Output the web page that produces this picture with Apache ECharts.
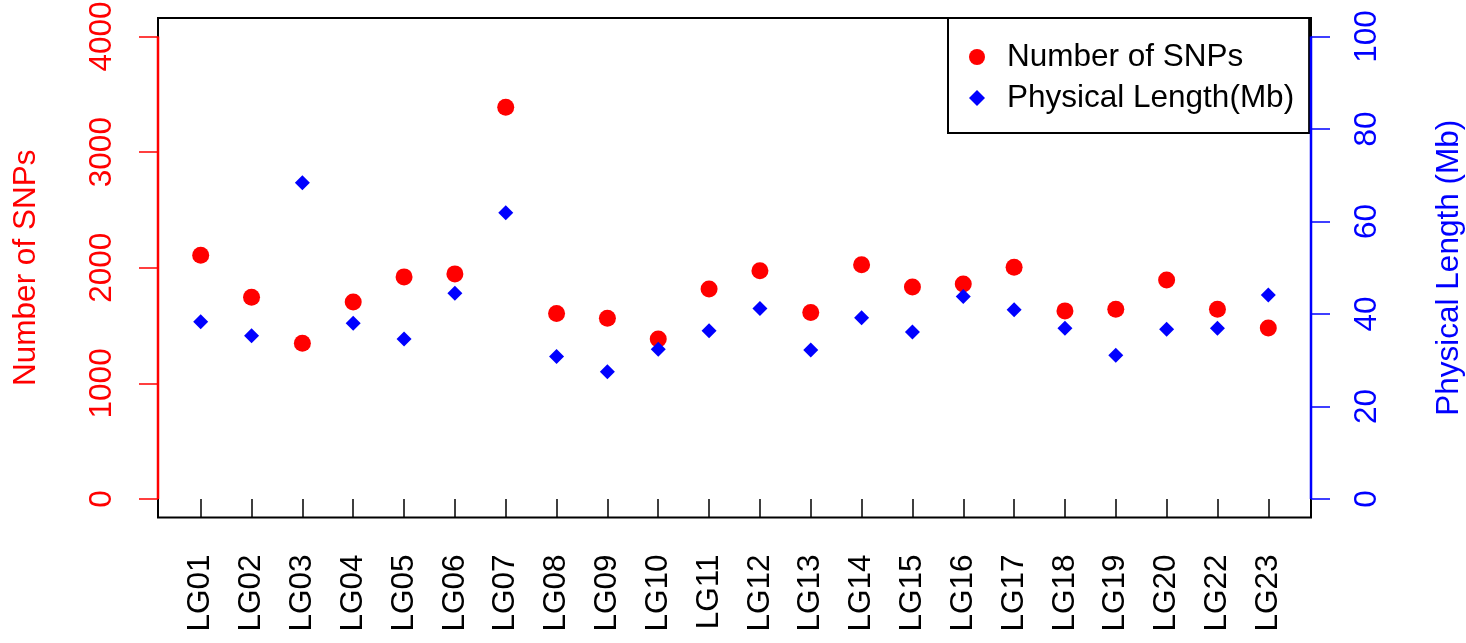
<!DOCTYPE html>
<html>
<head>
<meta charset="utf-8">
<script src="https://cdn.jsdelivr.net/npm/echarts@6/dist/echarts.min.js"></script>
<style>
  html, body { margin: 0; padding: 0; background: #fff; }
  #chart { width: 1466px; height: 643px; }
</style>
</head>
<body>
<div id="chart"></div>
<script>
// linkage groups
const categories = ["LG01", "LG02", "LG03", "LG04", "LG05", "LG06", "LG07", "LG08", "LG09", "LG10", "LG11",
  "LG12", "LG13", "LG14", "LG15", "LG16", "LG17", "LG18", "LG19", "LG20", "LG22", "LG23"];
const snpCounts = [2108, 1745, 1347, 1704, 1921, 1947, 3389, 1605, 1563, 1384, 1817,
  1975, 1612, 2025, 1834, 1860, 2005, 1627, 1641, 1895, 1641, 1479];
const physLength = [38.3, 35.3, 68.4, 38.0, 34.6, 44.5, 61.9, 30.8, 27.5, 32.4, 36.4,
  41.2, 32.2, 39.2, 36.1, 43.8, 40.9, 36.9, 31.1, 36.7, 36.9, 44.1];
const snpTicks = [0, 1000, 2000, 3000, 4000];
const lengthTicks = [0, 20, 40, 60, 80, 100];

const font = "Liberation Sans";
const fs = 31.5;
const positions = categories.map((c, i) => i + 1);

// R style 4% padding around the data range
const pad = (lo, hi) => [lo - (hi - lo) * 0.04, hi + (hi - lo) * 0.04];
const xr = pad(1, categories.length);
const yl = pad(snpTicks[0], snpTicks[snpTicks.length - 1]);
const yr = pad(lengthTicks[0], lengthTicks[lengthTicks.length - 1]);

let myChart = echarts.init(document.getElementById("chart"));
let option = {
  animation: false,
  backgroundColor: "#fff",
  textStyle: { fontFamily: font },
  grid: {
    left: 158, right: 155, top: 18, bottom: 125.5,
    outerBoundsMode: "none",
    containLabel: false,
    show: true, borderColor: "#000", borderWidth: 2, backgroundColor: "transparent"
  },
  legend: {
    left: 948, top: 18,
    orient: "vertical",
    padding: [21, 15, 17, 21],
    itemGap: 5,
    itemWidth: 16, itemHeight: 16,
    borderColor: "#000", borderWidth: 2,
    textStyle: { fontFamily: font, fontSize: fs, color: "#000", lineHeight: 36, padding: [0, 0, 0, 17] },
    data: [
      { name: "Number of SNPs", icon: "circle" },
      { name: "Physical Length(Mb)", icon: "diamond" }
    ]
  },
  xAxis: {
    type: "value",
    min: xr[0], max: xr[1],
    axisLine: { show: false },
    splitLine: { show: false },
    axisTick: { show: true, length: 18, lineStyle: { color: "#000", width: 1.5 }, customValues: positions },
    axisLabel: {
      rotate: 90, margin: 37, fontFamily: font, fontSize: fs, color: "#000",
      customValues: positions,
      formatter: v => categories[Math.round(v) - 1] || ""
    }
  },
  yAxis: [
    {
      type: "value",
      position: "left",
      min: yl[0], max: yl[1],
      name: "Number of SNPs",
      nameLocation: "middle", nameRotate: 90, nameGap: 116,
      nameTextStyle: { fontFamily: font, fontSize: fs, color: "#ff0000" },
      axisLine: { show: false },
      splitLine: { show: false },
      axisTick: { show: true, length: 19, lineStyle: { color: "#ff0000", width: 1.5 }, customValues: snpTicks },
      axisLabel: {
        rotate: 90, margin: 40, fontFamily: font, fontSize: fs, color: "#ff0000",
        customValues: snpTicks, formatter: v => String(v)
      }
    },
    {
      type: "value",
      position: "right",
      min: yr[0], max: yr[1],
      name: "Physical Length (Mb)",
      nameLocation: "middle", nameRotate: 90, nameGap: 122,
      nameTextStyle: { fontFamily: font, fontSize: fs, color: "#0000ff" },
      axisLine: { show: false },
      splitLine: { show: false },
      axisTick: { show: true, length: 19, lineStyle: { color: "#0000ff", width: 1.5 }, customValues: lengthTicks },
      axisLabel: {
        rotate: 90, margin: 40, fontFamily: font, fontSize: fs, color: "#0000ff",
        customValues: lengthTicks, formatter: v => String(v)
      }
    }
  ],
  series: [
    {
      name: "Number of SNPs",
      type: "scatter",
      yAxisIndex: 0,
      symbol: "circle",
      symbolSize: 17,
      itemStyle: { color: "#ff0000", opacity: 1 },
      data: snpCounts.map((v, i) => [positions[i], v])
    },
    {
      name: "Physical Length(Mb)",
      type: "scatter",
      yAxisIndex: 1,
      symbol: "diamond",
      symbolSize: 15,
      itemStyle: { color: "#0000ff", opacity: 1 },
      data: physLength.map((v, i) => [positions[i], v])
    }
  ]
};
myChart.setOption(option);

// coloured axis lines only span the tick range, like R's axis()
const xLeft = myChart.convertToPixel({ xAxisIndex: 0 }, xr[0]);
const xRight = myChart.convertToPixel({ xAxisIndex: 0 }, xr[1]);
const l0 = myChart.convertToPixel({ yAxisIndex: 0 }, snpTicks[0]);
const l1 = myChart.convertToPixel({ yAxisIndex: 0 }, snpTicks[snpTicks.length - 1]);
const r0 = myChart.convertToPixel({ yAxisIndex: 1 }, lengthTicks[0]);
const r1 = myChart.convertToPixel({ yAxisIndex: 1 }, lengthTicks[lengthTicks.length - 1]);
myChart.setOption({
  graphic: [
    { type: "line", z: 100, shape: { x1: xLeft, y1: l0, x2: xLeft, y2: l1 }, style: { stroke: "#ff0000", lineWidth: 2.5 } },
    { type: "line", z: 100, shape: { x1: xRight, y1: r0, x2: xRight, y2: r1 }, style: { stroke: "#0000ff", lineWidth: 2.5 } }
  ]
});
</script>
</body>
</html>
